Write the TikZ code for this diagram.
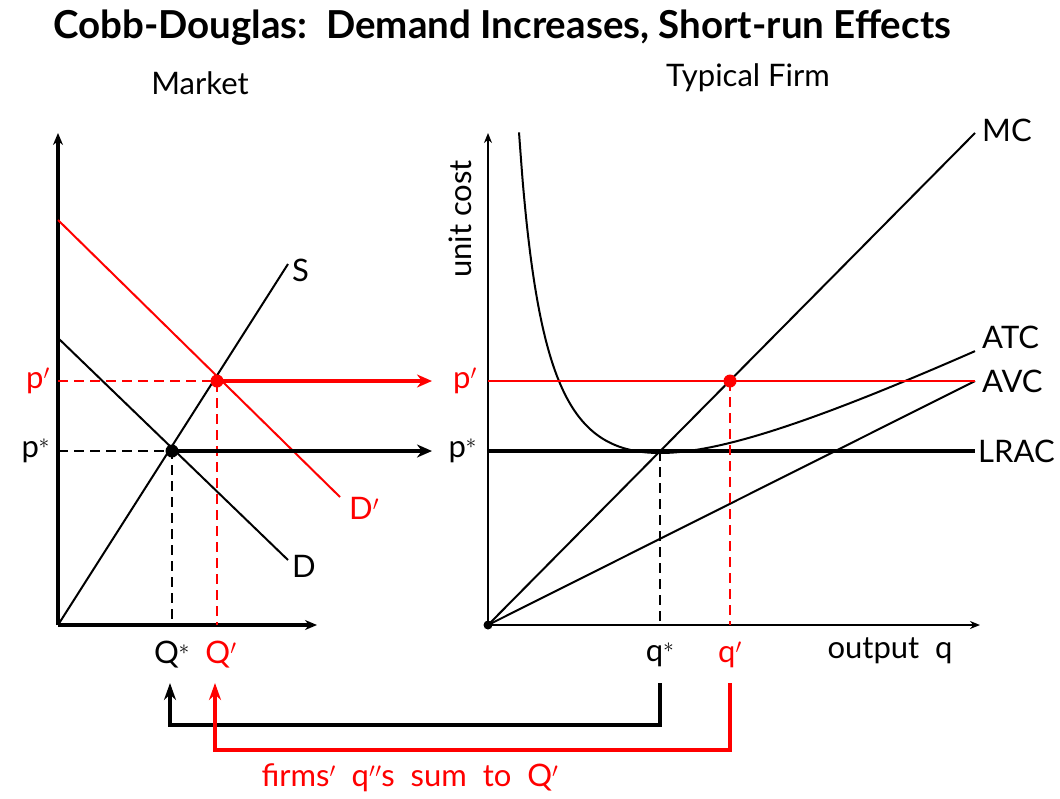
\documentclass[tikz,border=0pt]{standalone}
\usepackage{fontspec}
\setmainfont{Lato}
\usetikzlibrary{arrows.meta}
\begin{document}
\begin{tikzpicture}[x=1pt,y=-1pt,
  lbl/.style={font=\fontsize{31}{34}\selectfont, inner sep=0pt},
  thin/.style={line width=2pt},
  axis/.style={line width=2pt,-{Stealth[length=10pt,width=8pt]}},
  thickaxis/.style={line width=3.2pt,-{Stealth[length=12pt,width=10pt]}},
  dashline/.style={line width=2pt,dash pattern=on 10pt off 6pt},
  bigarrow/.style={line width=4.5pt,-{Stealth[length=15pt,width=13pt]}},
  dot/.style={circle,fill,inner sep=0pt,minimum size=13pt},
]
\useasboundingbox (0,0) rectangle (1060,798);
% titles
\node[font=\fontsize{38.5}{42}\selectfont\bfseries, inner sep=0pt] (title) at (502,28) {Cobb-Douglas:\ \ Demand Increases, Short-run Effects};
\node[lbl] (mkt) at (200,83) {Market};
\node[lbl] (firm) at (748,78) {Typical Firm};

% ---------- Market ----------
\coordinate (O) at (58,625);
\coordinate (Oy) at (58,133);
\coordinate (Ox) at (317,625);
\draw[thickaxis] (O) -- (Oy);
\draw[thickaxis] (O) -- (Ox);
\coordinate (Send) at (288,264);
\coordinate (Dstart) at (58,338);
\coordinate (Dend) at (288,560);
\coordinate (D2start) at (58,220);
\coordinate (D2end) at (340,497);
\draw[thin] (O) -- (Send);
\draw[thin] (Dstart) -- (Dend);
\draw[thin,red] (D2start) -- (D2end);
\node[lbl,anchor=west] (S) at (292,270) {S};
\node[lbl,anchor=west] (D) at (292,566) {D};
\node[lbl,anchor=west,red] (D2) at (349,508) {D$'$};

\coordinate (E0) at (172,451);
\coordinate (E1) at (217,381);
\coordinate (Ps) at (58,451);
\coordinate (Pp) at (58,381);
\coordinate (Qs) at (172,625);
\coordinate (Qp) at (217,625);
\draw[dashline] (Ps) -- (E0) -- (Qs);
\draw[dashline,red] (Pp) -- (E1) -- (Qp);
\node[lbl,anchor=east] (lps) at (50,451) {p$^*$};
\node[lbl,anchor=east,red] (lpp) at (50,381) {p$'$};
\node[lbl] (lQs) at (172,655) {Q$^*$};
\node[lbl,red] (lQp) at (221,655) {Q$'$};

\coordinate (A0) at (432,451);
\coordinate (A1) at (432,381);
\draw[bigarrow] (E0) -- (A0);
\draw[bigarrow,red] (E1) -- (A1);
\node[dot] (dE0) at (E0) {};
\node[dot,red] (dE1) at (E1) {};

% ---------- Firm ----------
\coordinate (F) at (488,625);
\coordinate (Fy) at (488,133);
\coordinate (Fx) at (980,625);
\draw[axis] (F) -- (Fy);
\draw[axis] (F) -- (Fx);
\node[lbl,rotate=90] (uc) at (460,219) {unit cost};
\node[lbl] (out) at (890,651) {output\ \ q};

\coordinate (MCend) at (975,133);
\coordinate (AVCend) at (975,381);
\coordinate (Lend) at (975,451);
\coordinate (Pfirm) at (488,381);
\coordinate (Pfirm2) at (488,451);
\draw[thin] (F) -- (MCend);
\draw[thin] (F) -- (AVCend);
\draw[thin] plot[smooth,domain=31:487,samples=120,variable=\q] ({488+\q},{625-(14792/\q+0.5*\q)});
\draw[line width=4.5pt] (Pfirm2) -- (Lend);
\draw[thin,red] (Pfirm) -- (AVCend);
\node[lbl,anchor=west] (lMC) at (982,130) {MC};
\node[lbl,anchor=west] (lATC) at (982,337) {ATC};
\node[lbl,anchor=west] (lAVC) at (982,381) {AVC};
\node[lbl,anchor=west] (lLRAC) at (978,451) {LRAC};
\node[lbl,anchor=east] (fps) at (477,451) {p$^*$};
\node[lbl,anchor=east,red] (fpp) at (477,381) {p$'$};

\coordinate (e0) at (660,451);
\coordinate (e1) at (730,381);
\coordinate (qs) at (660,625);
\coordinate (qp) at (730,625);
\draw[dashline] (e0) -- (qs);
\draw[dashline,red] (e1) -- (qp);
\node[dot,red] (de1) at (e1) {};
\node[circle,fill,inner sep=0pt,minimum size=9pt] (dF) at (F) {};
\node[lbl] (lqs) at (660,655) {q$^*$};
\node[lbl,red] (lqp) at (730,655) {q$'$};

% ---------- bottom arrows ----------
\coordinate (b0) at (660,683);
\coordinate (b1) at (730,683);
\coordinate (t0) at (170,683);
\coordinate (t1) at (215,683);
\draw[line width=4.5pt,-{Stealth[length=17pt,width=12pt]}] (b0) -- (660,725) -- (170,725) -- (t0);
\draw[line width=4.5pt,red,-{Stealth[length=17pt,width=12pt]}] (b1) -- (730,750) -- (215,750) -- (t1);
\node[lbl,red] (sum) at (410,778) {firms$'$\ \ q$'$$'$s\ \ sum\ \ to\ \ Q$'$};
\end{tikzpicture}
\end{document}
